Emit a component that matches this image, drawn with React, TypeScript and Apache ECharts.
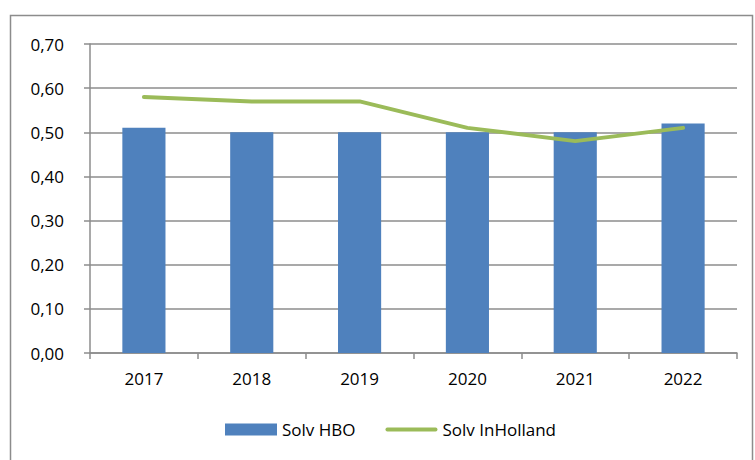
import React, { useEffect, useRef } from "react";
import * as echarts from "echarts";

const years = ["2017", "2018", "2019", "2020", "2021", "2022"];
const solvHBO = [0.51, 0.50, 0.50, 0.50, 0.50, 0.52];
const solvInHolland = [0.58, 0.57, 0.57, 0.51, 0.48, 0.51];

export default function App() {
  const ref = useRef<HTMLDivElement>(null);
  useEffect(() => {
    const chart = echarts.init(ref.current!, null, { renderer: "svg" });
    const font = "Open Sans";
    chart.setOption({
      animation: false,
      backgroundColor: "#ffffff",
      textStyle: { fontFamily: font },
      graphic: [
        {
          type: "rect",
          shape: { x: 10.5, y: 15.5, width: 742, height: 460 },
          style: { fill: "none", stroke: "#8c8c8c", lineWidth: 1.5 },
          silent: true,
        },
      ],
      grid: { left: 90, right: 18, top: 44, bottom: 107 },
      legend: {
        bottom: 17,
        left: 220,
        itemGap: 30,
        itemWidth: 52,
        itemHeight: 12,
        itemTextGap: 4,
        textStyle: { fontSize: 17, color: "#000", fontFamily: font },
        data: [
          { name: "Solv HBO", icon: "rect" },
          { name: "Solv InHolland", icon: "path://M2,0 H53 A2,2 0 0 1 53,4 H2 A2,2 0 0 1 2,0 Z" },
        ],
      },
      xAxis: {
        type: "category",
        data: years,
        boundaryGap: true,
        axisLine: { lineStyle: { color: "#8c8c8c", width: 1.5 } },
        axisTick: { show: true, length: 6, lineStyle: { color: "#8c8c8c", width: 1.5 } },
        axisLabel: { color: "#000", fontSize: 17, margin: 17 },
      },
      yAxis: {
        type: "value",
        min: 0,
        max: 0.7,
        interval: 0.1,
        axisLine: { show: true, lineStyle: { color: "#8c8c8c", width: 1.5 } },
        axisTick: { show: true, length: 6, lineStyle: { color: "#8c8c8c", width: 1.5 } },
        splitLine: { lineStyle: { color: "#8c8c8c", width: 1.5 } },
        axisLabel: {
          color: "#000",
          fontSize: 17,
          margin: 26,
          formatter: (v: number) => v.toFixed(2).replace(".", ","),
        },
      },
      series: [
        {
          name: "Solv HBO",
          type: "bar",
          data: solvHBO,
          barWidth: "40%",
          itemStyle: { color: "#4f81bd" },
        },
        {
          name: "Solv InHolland",
          type: "line",
          data: solvInHolland,
          showSymbol: false,
          symbol: "none",
          lineStyle: { color: "#9bbb59", width: 4, cap: "round", join: "round" },
          itemStyle: { color: "#9bbb59" },
        },
      ],
    });
    return () => chart.dispose();
  }, []);
  return (
    <div
      ref={ref}
      style={{ position: "fixed", left: 0, top: 0, width: 755, height: 460 }}
    />
  );
}
